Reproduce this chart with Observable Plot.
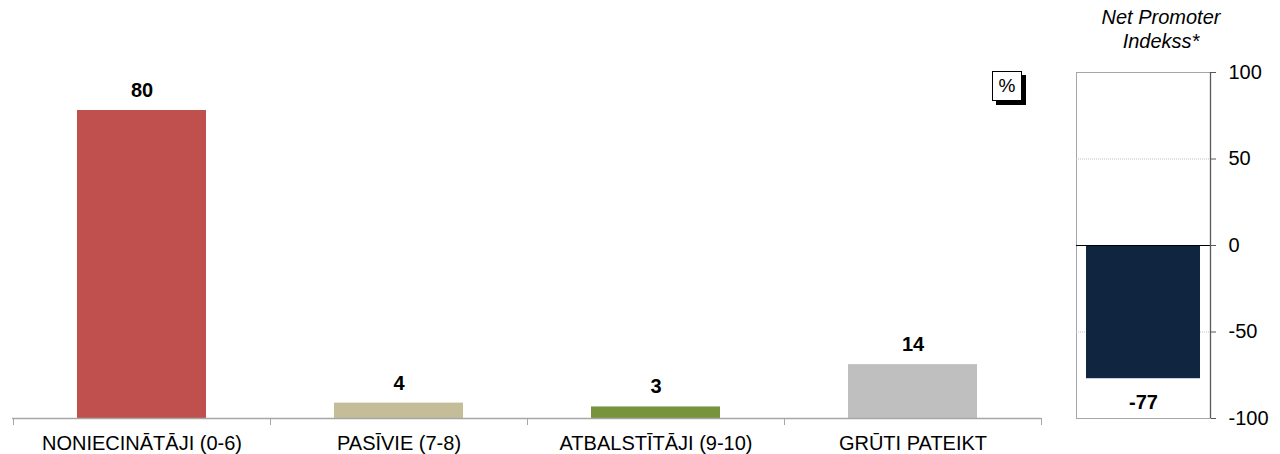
<!DOCTYPE html>
<html>
<head>
<meta charset="utf-8">
<script src="https://cdn.jsdelivr.net/npm/d3@7"></script>
<script src="https://cdn.jsdelivr.net/npm/@observablehq/plot@0.6"></script>
<style>
  body { margin: 0; background: #fff; font-family: "Liberation Sans", Arial, sans-serif; }
  #wrap { position: relative; width: 1280px; height: 454px; overflow: hidden; }
  #left { position: absolute; left: 0; top: 0; }
  #right { position: absolute; left: 1060px; top: 0; }
  #title { position: absolute; left: 1071px; top: 5px; width: 180px; text-align: center;
           font-style: italic; font-size: 20px; line-height: 24px; color: #000; }
  #pct { position: absolute; left: 992px; top: 71px; width: 28px; height: 28px;
         border: 1px solid #000; box-shadow: 4px 4px 0 #000; background: #fff;
         font-size: 19px; line-height: 28px; text-align: center; color: #000; }
</style>
</head>
<body>
<div id="wrap">
  <div id="left"></div>
  <div id="right"></div>
  <div id="title">Net Promoter<br>Indekss*</div>
  <div id="pct">%</div>
</div>
<script>
const categories = ["NONIECINĀTĀJI (0-6)", "PASĪVIE (7-8)", "ATBALSTĪTĀJI (9-10)", "GRŪTI PATEIKT"];
const shares = [80, 4, 3, 14];
const barColors = ["#C0504D", "#C4BD97", "#77933C", "#BFBFBF"];

const npsCategory = ["Net Promoter Indekss"];
const npsValues = [-77];
const npsTicks = [-100, -50, 0, 50, 100];
const npsGrid = [-50, 50];

const FONT = '"Liberation Sans", Arial, sans-serif';
const data = categories.map((c, i) => ({category: c, value: shares[i], color: barColors[i]}));
const nps = npsCategory.map((c, i) => ({category: c, value: npsValues[i]}));

// boundary tick marks between categories (band edges)
function boundaryTicks(index, scales, values, dimensions) {
  const x = scales.x;
  const {width, marginLeft, marginRight, height, marginBottom} = dimensions;
  const n = categories.length;
  const step = (x && x.step) ? x.step() : (width - marginLeft - marginRight) / n;
  const start = (x && x.step) ? x(categories[0]) - step * x.paddingOuter() : marginLeft;
  const g = d3.create("svg:g");
  const y0 = height - marginBottom;
  for (let i = 0; i <= n; i++) {
    const xx = Math.round(start + i * step) + 0.5;
    g.append("line").attr("x1", xx).attr("x2", xx).attr("y1", y0).attr("y2", y0 + 7)
      .attr("stroke", "#A6A6A6").attr("stroke-width", 1);
  }
  return g.node();
}

const left = Plot.plot({
  width: 1060,
  height: 454,
  marginLeft: 12,
  marginRight: 19,
  marginTop: 33,
  marginBottom: 36,
  style: {fontFamily: FONT, color: "#000", background: "#fff"},
  x: {domain: categories, paddingInner: 0.5, paddingOuter: 0.25, label: null},
  y: {domain: [0, 100], axis: null},
  marks: [
    Plot.barY(data, {x: "category", y: "value", fill: "color"}),
    Plot.ruleY([0], {stroke: "#A6A6A6", strokeWidth: 1.3}),
    boundaryTicks,
    Plot.axisX({tickSize: 0, tickPadding: 17, fontSize: 20, label: null}),
    Plot.text(data, {x: "category", y: "value", text: d => String(d.value), dy: -20,
      fontSize: 20, fontWeight: "bold", fill: "#000", lineAnchor: "middle"})
  ]
});
document.getElementById("left").appendChild(left);

// dark axis line on the right edge of the NPS box
function rightAxisLine(index, scales, values, dimensions) {
  const {width, marginRight, marginTop, height, marginBottom} = dimensions;
  const xx = width - marginRight + 0.5;
  const g = d3.create("svg:g");
  g.append("line").attr("x1", xx).attr("x2", xx).attr("y1", marginTop).attr("y2", height - marginBottom)
    .attr("stroke", "#595959").attr("stroke-width", 1.3);
  return g.node();
}

const right = Plot.plot({
  width: 220,
  height: 454,
  marginLeft: 16,
  marginRight: 70,
  marginTop: 72,
  marginBottom: 36,
  style: {fontFamily: FONT, color: "#000", background: "#fff"},
  x: {domain: npsCategory, padding: 0.08, axis: null},
  y: {domain: [-100, 100], axis: null},
  marks: [
    Plot.frame({stroke: "#A6A6A6"}),
    Plot.ruleY(npsGrid, {stroke: "#BFBFBF", strokeDasharray: "1,1"}),
    Plot.barY(nps, {x: "category", y: "value", fill: "#10253F"}),
    Plot.ruleY([0], {stroke: "#000", strokeWidth: 1}),
    rightAxisLine,
    Plot.axisY({anchor: "right", ticks: npsTicks, tickSize: 5, tickPadding: 13, fontSize: 20,
      tickFormat: d => String(d), stroke: "#595959", label: null}),
    Plot.text(nps, {x: "category", y: "value", text: d => String(d.value), dy: 24,
      fontSize: 20, fontWeight: "bold", fill: "#000", lineAnchor: "middle"})
  ]
});
document.getElementById("right").appendChild(right);
</script>
</body>
</html>
